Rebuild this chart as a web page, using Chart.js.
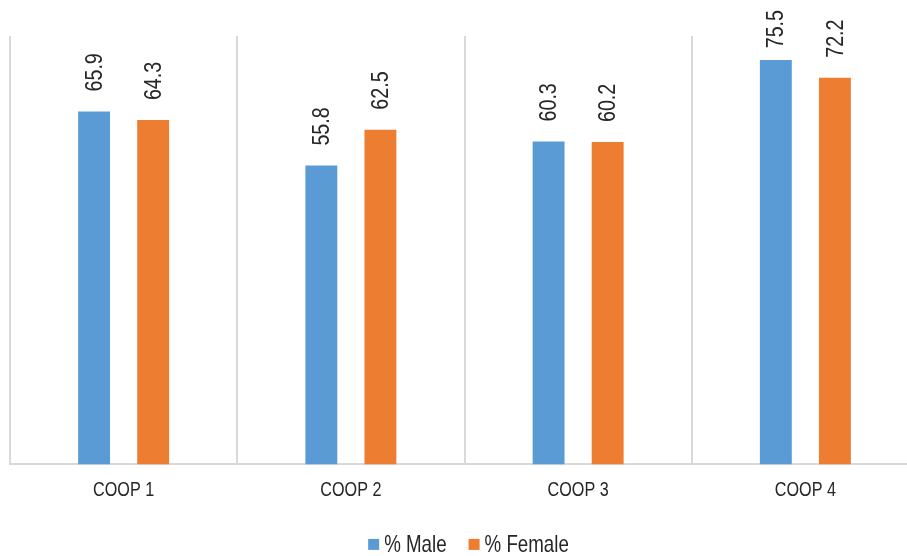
<!DOCTYPE html>
<html>
<head>
<meta charset="utf-8">
<script src="https://cdn.jsdelivr.net/npm/chart.js@4/dist/chart.umd.min.js"></script>
<style>
  html, body { margin: 0; padding: 0; background: #fff; overflow: hidden; }
  #wrap { width: 920px; height: 556px; position: relative; }
</style>
</head>
<body>
<div id="wrap"><canvas id="c"></canvas></div>
<script>
// Share of members by cooperative
const categories = ['COOP 1', 'COOP 2', 'COOP 3', 'COOP 4'];
const maleValues = [65.9, 55.8, 60.3, 75.5];
const femaleValues = [64.3, 62.5, 60.2, 72.2];
const seriesNames = ['% Male', '% Female'];
const seriesColors = ['#5B9BD5', '#ED7D31'];

const FONT = '"Liberation Sans", Arial, sans-serif';
const TEXT = '#262626';

// Draws text squeezed horizontally (condensed look) starting/centred at (x, y)
function narrowText(ctx, str, x, y, align, squeeze) {
  ctx.save();
  ctx.translate(x, y);
  ctx.scale(squeeze, 1);
  ctx.textAlign = align;
  ctx.fillText(str, 0, 0);
  ctx.restore();
}

// Value labels, category labels and the legend, all in condensed type
const condensedText = {
  id: 'condensedText',
  afterDatasetsDraw(chart) {
    const ctx = chart.ctx;
    const area = chart.chartArea;
    ctx.save();
    ctx.fillStyle = TEXT;
    ctx.textBaseline = 'middle';

    // vertical value labels above the bars, kept inside the top edge
    const labelSqueeze = 0.82;
    ctx.font = '24px ' + FONT;
    chart.data.datasets.forEach((ds, i) => {
      chart.getDatasetMeta(i).data.forEach((bar, j) => {
        const txt = ds.data[j].toFixed(1);
        const len = ctx.measureText(txt).width * labelSqueeze;
        const start = Math.max(bar.y - 20, 10 + len);
        ctx.save();
        ctx.translate(bar.x + 1, start);
        ctx.rotate(-Math.PI / 2);
        ctx.scale(labelSqueeze, 1);
        ctx.textAlign = 'left';
        ctx.fillText(txt, 0, 0);
        ctx.restore();
      });
    });

    // category labels under the axis
    const xs = chart.scales.x;
    ctx.font = '21px ' + FONT;
    categories.forEach((c, i) => {
      narrowText(ctx, c, xs.getPixelForTick(i), area.bottom + 26, 'center', 0.77);
    });

    // legend
    const legSqueeze = 0.78, box = 11, gapBox = 5, gapItem = 22;
    ctx.font = '24px ' + FONT;
    const widths = seriesNames.map(n => ctx.measureText(n).width * legSqueeze);
    const total = widths.reduce((a, w) => a + box + gapBox + w, 0) + gapItem * (seriesNames.length - 1);
    let x = (area.left + area.right) / 2 - total / 2 + 4;
    const y = area.bottom + 80;
    seriesNames.forEach((n, i) => {
      ctx.fillStyle = seriesColors[i];
      ctx.fillRect(x, y - box / 2, box, box);
      x += box + gapBox;
      ctx.fillStyle = TEXT;
      narrowText(ctx, n, x, y + 1, 'left', legSqueeze);
      x += widths[i] + gapItem;
    });
    ctx.restore();
  }
};

new Chart(document.getElementById('c'), {
  type: 'bar',
  data: {
    labels: categories,
    datasets: [
      { label: seriesNames[0], data: maleValues, backgroundColor: seriesColors[0] },
      { label: seriesNames[1], data: femaleValues, backgroundColor: seriesColors[1] }
    ]
  },
  options: {
    responsive: true,
    maintainAspectRatio: false,
    animation: false,
    datasets: { bar: { categoryPercentage: 0.52, barPercentage: 0.54 } },
    layout: { padding: { top: 36, left: 10, right: 1, bottom: 42 } },
    scales: {
      x: {
        grid: { color: '#d9d9d9', lineWidth: 2, drawTicks: false, offset: true },
        border: { color: '#d9d9d9', width: 2 },
        ticks: { color: 'rgba(0,0,0,0)', font: { family: FONT, size: 18 }, padding: 14 }
      },
      y: {
        display: false,
        min: 0,
        max: 80
      }
    },
    plugins: {
      legend: { display: false },
      tooltip: { enabled: false }
    }
  },
  plugins: [condensedText]
});
</script>
</body>
</html>
